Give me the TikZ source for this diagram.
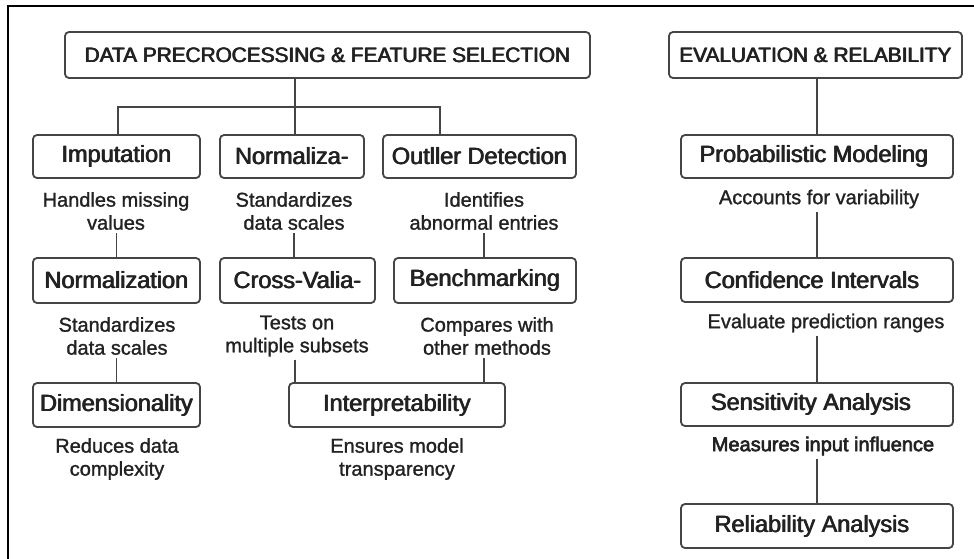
\documentclass[tikz,border=0pt]{standalone}
\usepackage{fontspec}
\setmainfont{Liberation Sans}
\usetikzlibrary{calc}
\definecolor{boxline}{HTML}{454545}
\definecolor{txt}{HTML}{222222}
\newcommand\heavyon[1]{\special{pdf:literal direct 2 Tr #1 w}}
\newcommand\heavyoff{\special{pdf:literal direct 0 Tr}}
\newcommand\fb[1]{\rlap{#1}\kern0.45pt\rlap{#1}\kern0.45pt#1}
\tikzset{
  stepbox/.style={draw=boxline, line width=1.8pt, rounded corners=4pt, inner sep=0pt,
    text=txt, font=\fontsize{23.5}{26}\selectfont},
  headbox/.style={stepbox, font=\fontsize{20.8}{24}\selectfont},
  desc/.style={align=center, inner sep=3pt, text=txt, font=\fontsize{20}{23}\selectfont,
    execute at begin node={\heavyon{0.25}}, execute at end node={\heavyoff}},
  descb/.style={desc, execute at begin node={\heavyon{0.6}}},
  conn/.style={draw=boxline, line width=1.5pt},
}
\begin{document}
\begin{tikzpicture}[x=1pt,y=-1pt]
\useasboundingbox (0,0) rectangle (974,558);
\fill[white] (0,0) rectangle (974,558);
% frame
\coordinate (fBL) at (8,560);
\coordinate (fTL) at (8,6);
\coordinate (fTR) at (976,6);
\draw[line width=2.6pt, black] (fBL) -- (fTL) -- (fTR);

% headers
\node[headbox, minimum width=525pt, minimum height=46pt] (t1) at (327.5,55) {\fb{DATA PRECROCESSING \& FEATURE SELECTION}};
\node[headbox, minimum width=293pt, minimum height=46pt] (t2) at (815.5,55) {\fb{EVALUATION \& RELABILITY}};

% row 1
\node[stepbox, minimum width=167pt, minimum height=43pt] (imp) at (116.5,156.5) {\fb{Imputation}};
\node[stepbox, minimum width=144pt, minimum height=43pt] (nrma) at (292,156.5) {\fb{Normaliza-}};
\node[stepbox, minimum width=193pt, minimum height=43pt] (out) at (479.5,156.5) {\fb{Outller Detection}};

\node[desc] (dimp) at (116,211) {Handles missing\\values};
\node[desc] (dnrma) at (294,211) {Standardizes\\data scales};
\node[desc] (dout) at (484,211) {Identifies\\abnormal entries};

% row 2
\node[stepbox, minimum width=167pt, minimum height=45pt] (nrmb) at (116.5,280.5) {\fb{Normalization}};
\node[stepbox, minimum width=155pt, minimum height=45pt] (cv) at (297.5,280.5) {\fb{Cross-Valia-}};
\node[stepbox, minimum width=182pt, minimum height=45pt] (bm) at (485,280.5) {\fb{Benchmarking}};

\node[desc] (dnrmb) at (117,336) {Standardizes\\data scales};
\node[desc] (dcv) at (297,336) {Tests on\\multiple subsets};
\node[desc] (dbm) at (487,336) {Compares with\\other methods};

% row 3
\node[stepbox, minimum width=167pt, minimum height=44pt] (dim) at (116.5,405) {\fb{Dimensionality}};
\node[stepbox, minimum width=216pt, minimum height=44pt] (intp) at (397,405) {\fb{Interpretability}};

\node[desc] (ddim) at (117,459) {Reduces data\\complexity};
\node[desc] (dintp) at (397,459) {Ensures model\\transparency};

% right column
\node[stepbox, minimum width=272pt, minimum height=43pt] (pm) at (817,156.5) {\fb{Probabilistic Modeling}\kern6pt};
\node[desc] (dpm) at (819,199) {Accounts for variability};
\node[stepbox, minimum width=272pt, minimum height=44pt] (ci) at (817,280) {\fb{Confidence Intervals}\kern10pt};
\node[desc] (dci) at (826,323) {Evaluate prediction ranges};
\node[stepbox, minimum width=272pt, minimum height=43pt] (sa) at (817,404.5) {\fb{Sensitivity Analysis}\kern12pt};
\node[descb] (dsa) at (823,446) {Measures input influence};
\node[stepbox, minimum width=272pt, minimum height=44pt] (ra) at (817,526) {\fb{Reliability Analysis}\kern10pt};

% connectors left
\coordinate (bus) at (295,107);
\coordinate (busL) at (118,107);
\coordinate (busR) at (440,107);
\draw[conn] (bus |- t1.south) -- (bus |- nrma.north);
\draw[conn] (busL |- imp.north) -- (busL) -- (busR) -- (busR |- out.north);

\draw[conn] (nrmb.north |- dimp.south) -- (nrmb.north);
\draw[conn] (dnrma.south) -- (dnrma.south |- cv.north);
\draw[conn] (dout.south) -- (dout.south |- bm.north);

\draw[conn] (dim.north |- dnrmb.south) -- (dim.north);
\draw[conn] (dcv.south -| bus) -- (bus |- intp.north);
\draw[conn] (dbm.south -| dout.south) -- (dout.south |- intp.north);

% connectors right
\draw[conn] (pm.north |- t2.south) -- (pm.north);
\draw[conn] (ci.north |- dpm.south) -- (ci.north);
\draw[conn] (sa.north |- dci.south) -- (sa.north);
\draw[conn] (ra.north |- dsa.south) -- (ra.north);
\end{tikzpicture}
\end{document}
